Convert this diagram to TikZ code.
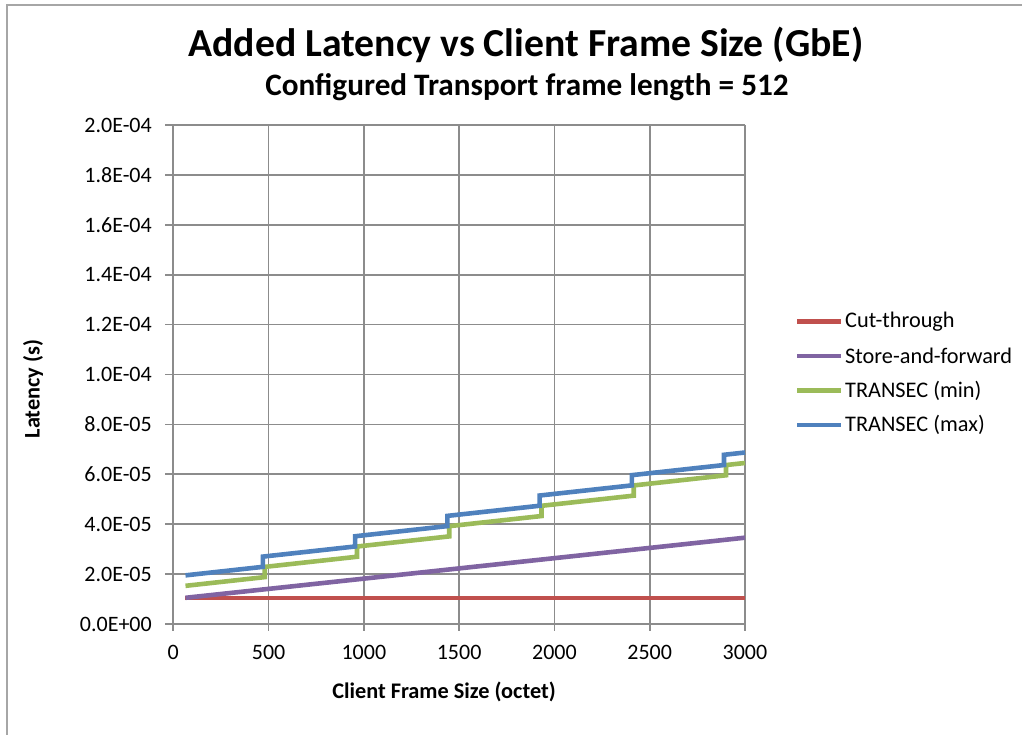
\documentclass[tikz,border=0pt]{standalone}
\usepackage{fontspec}
\setmainfont{Carlito}
\definecolor{cRed}{HTML}{C0504D}
\definecolor{cPurple}{HTML}{8064A2}
\definecolor{cGreen}{HTML}{9BBB59}
\definecolor{cBlue}{HTML}{4F81BD}
\definecolor{cGrid}{HTML}{8C8C8C}
\definecolor{cFrame}{HTML}{A6A6A6}
\begin{document}
\begin{tikzpicture}[x=1pt,y=-1pt,
  grid/.style={draw=cGrid,line width=1.7pt},
  series/.style={line width=4.6pt},
  ticklab/.style={font=\fontsize{22}{24}\selectfont,inner sep=0pt},
  axtitle/.style={font=\fontsize{22.3}{24}\selectfont\bfseries,inner sep=0pt},
  leglab/.style={font=\fontsize{22.3}{24}\selectfont,inner sep=0pt,anchor=west}]
\useasboundingbox (0,0) rectangle (1022,735);
% outer frame (partially visible)
\draw[cFrame,line width=1.6pt] (7,740) -- (7,5) -- (1030,5);
% titles
\node[font=\fontsize{39.7}{42}\selectfont\bfseries] (title) at (526,45) {Added Latency vs Client Frame Size (GbE)};
\node[font=\fontsize{31.2}{34}\selectfont\bfseries] (subtitle) at (527,87) {Configured Transport frame length = 512};
% grid and axes
\foreach \i in {0,...,6} {
  \draw[grid] ({173.3+95.28*\i},125) -- ({173.3+95.28*\i},631);
  \node[ticklab] (xl\i) at ({173.3+95.28*\i},652) {\pgfmathparse{int(500*\i)}\pgfmathresult};
}
\foreach \j/\t in {0/0.0E+00,1/2.0E-05,2/4.0E-05,3/6.0E-05,4/8.0E-05,5/1.0E-04,6/1.2E-04,7/1.4E-04,8/1.6E-04,9/1.8E-04,10/2.0E-04} {
  \draw[grid] (165,{624-49.9*\j}) -- (745,{624-49.9*\j});
  \node[ticklab,anchor=east] (yl\j) at (152,{624-49.9*\j}) {\t};
}
\node[axtitle] (xtitle) at (444,692) {Client Frame Size (octet)};
\node[axtitle,rotate=90] (ytitle) at (33,389) {Latency (s)};
% data
\begin{scope}[shift={(173.3pt,-624pt)},x=0.19057pt,y=24.95pt]
  \draw[series,cRed] (64,1.05) -- (3000,1.05);
  \draw[series,cPurple] (64,1.05) -- (3000,3.46);
  \draw[series,cGreen] (64,1.53)
    foreach \k in {1,...,6} {
      -- ({480+484*(\k-1)},{1.53+(480+484*(\k-1)-64)*0.00084+0.41*(\k-1)})
      -- ++(0,0.41)
    } -- (3000,{1.53+2936*0.00084+2.46});
  \draw[series,cBlue] (64,1.95)
    foreach \k in {1,...,6} {
      -- ({470+484*(\k-1)},{1.95+(470+484*(\k-1)-64)*0.00084+0.41*(\k-1)})
      -- ++(0,0.41)
    } -- (3000,{1.95+2936*0.00084+2.46});
\end{scope}
% legend
\foreach \c/\y/\t/\n in {cRed/321.5/Cut-through/1,cPurple/356/Store-and-forward/2,cGreen/390.5/TRANSEC (min)/3,cBlue/425/TRANSEC (max)/4} {
  \draw[series,\c] (797,\y) -- (841,\y);
  \node[leglab] (leg\n) at (845,\y) {\t};
}
\end{tikzpicture}
\end{document}
